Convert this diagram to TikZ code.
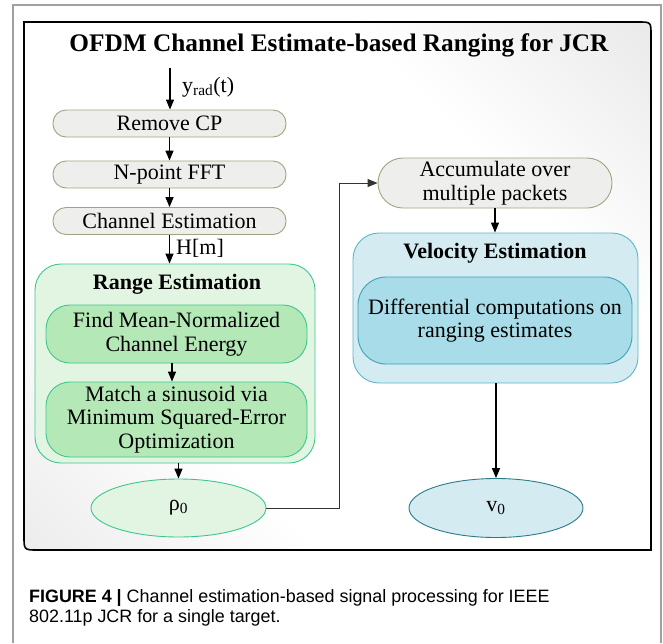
\documentclass[tikz,border=0pt]{standalone}
\usepackage{fontspec}
\setmainfont{Liberation Serif}
\newfontfamily\capfont{Liberation Sans}
\usetikzlibrary{arrows.meta,shapes.geometric}
\definecolor{procfill}{HTML}{EEEEEC}
\definecolor{procdraw}{HTML}{A2A282}
\definecolor{rangefill}{HTML}{E2F5E2}
\definecolor{greendraw}{HTML}{3CC88C}
\definecolor{greenfill}{HTML}{B4E8B6}
\definecolor{velfill}{HTML}{D3EBF1}
\definecolor{veldraw}{HTML}{5AB8C8}
\definecolor{bluefill}{HTML}{A8DCE8}
\definecolor{bluedraw}{HTML}{38A6B8}
\definecolor{vdraw}{HTML}{2A7A8A}
\definecolor{framegray}{HTML}{A0A0A0}
\pgfdeclareverticalshading{boxshade}{100bp}{color(0bp)=(gray!26); color(33bp)=(white); color(67bp)=(white); color(100bp)=(gray!30)}
\begin{document}
\begin{tikzpicture}[x=1pt,y=-1pt,
  txt/.style={font=\fontsize{22}{23.5}\selectfont, align=center, inner sep=0pt},
  procbox/.style={txt, draw=procdraw, fill=procfill, line width=0.9pt, rounded corners=13pt, minimum width=233pt, minimum height=27pt},
  rangebox/.style={draw=greendraw, fill=rangefill, line width=0.9pt, rounded corners=26pt, minimum width=280pt, minimum height=199pt, inner sep=0pt},
  greenbox/.style={txt, draw=greendraw, fill=greenfill, line width=0.9pt, rounded corners=24pt, minimum width=261pt, minimum height=58pt},
  velbox/.style={draw=veldraw, fill=velfill, line width=0.9pt, rounded corners=26pt, minimum width=285pt, minimum height=150pt, inner sep=0pt},
  bluebox/.style={txt, draw=bluedraw, fill=bluefill, line width=0.9pt, rounded corners=28pt, minimum width=274pt, minimum height=87pt},
  ell/.style={txt, ellipse, line width=0.9pt, minimum width=175pt, minimum height=58pt},
  arr/.style={line width=1.4pt, -{Triangle[length=10pt,width=8pt]}},
  conn/.style={line width=1pt, draw=black!80, -{Triangle[length=10pt,width=8pt]}},
  captxt/.style={anchor=base west, inner sep=0pt, font=\capfont\fontsize{17.9}{20}\selectfont}
]
\useasboundingbox (0,0) rectangle (663,643);
% outer figure frame
\draw[framegray, line width=1.5pt] (13,643) -- (13,5) -- (661,5) -- (661,643);
% inner box
\path[shading=boxshade, shading angle=-45]
  (24,22) -- (638,22) .. controls (651,22) .. (651,35) -- (651,550) -- (38,550) .. controls (24,550) .. (24,536) -- cycle;
\draw[line width=1.6pt]
  (24,22) -- (638,22) .. controls (651,22) .. (651,35) -- (651,550) -- (38,550) .. controls (24,550) .. (24,536) -- cycle;
% title
\node[inner sep=0pt, font=\fontsize{25.3}{27}\selectfont\bfseries] (title) at (339,45) {OFDM Channel Estimate-based Ranging for JCR};
% left chain
\coordinate (yin) at (170,68);
\node[procbox] (rcp) at (169.5,123.5) {Remove CP};
\node[procbox] (fft) at (169.5,174.5) {N-point FFT};
\node[procbox] (ce) at (169.5,221) {Channel Estimation};
\node[txt, anchor=west] (ylab) at (182,87) {y\textsubscript{rad}(t)};
\draw[arr] (yin) -- (yin |- rcp.north);
\draw[arr] (rcp.south) -- (fft.north);
\draw[arr] (fft.south) -- (ce.north);
\node[rangebox] (range) at (175,363.5) {};
\node[txt, font=\fontsize{22}{23.5}\selectfont\bfseries] (rlab) at (177,284) {Range Estimation};
\draw[arr] (ce.south) -- (ce.south |- range.north);
\node[txt, anchor=west] (hlab) at (176,248) {H[m]};
\node[greenbox] (find) at (176.5,334) {Find Mean-Normalized\\Channel Energy};
\node[greenbox, minimum height=75pt] (match) at (176.5,419.5) {Match a sinusoid via\\Minimum Squared-Error\\Optimization};
\draw[arr] ([xshift=-4.5pt]find.south) -- ([xshift=-4.5pt]match.north);
\node[ell, draw=greendraw, fill=rangefill] (rho) at (178.5,508) {ρ\textsubscript{0}};
\draw[arr] (rho.north |- range.south) -- (rho.north);
% right chain
\node[procbox, minimum width=234pt, minimum height=50pt, rounded corners=25pt] (acc) at (495,183) {Accumulate over\\multiple packets};
\draw[conn] (rho.east) -- ++(73,0) |- (acc.west);
\node[velbox] (vel) at (495.5,308) {};
\node[txt, font=\fontsize{22}{23.5}\selectfont\bfseries] (vlab) at (495,253) {Velocity Estimation};
\node[bluebox] (diff) at (495,320.5) {Differential computations on\\ranging estimates};
\draw[arr] (acc.south) -- (acc.south |- vel.north);
\node[ell, draw=vdraw, fill=velfill, minimum width=174pt, minimum height=59pt] (v0) at (496,508) {v\textsubscript{0}};
\draw[arr] (v0.north |- vel.south) -- (v0.north);
% caption
\node[captxt] (cap1) at (29,602) {\textbf{FIGURE 4 |} Channel estimation-based signal processing for IEEE};
\node[captxt] (cap2) at (29,622) {802.11p JCR for a single target.};
\end{tikzpicture}
\end{document}
